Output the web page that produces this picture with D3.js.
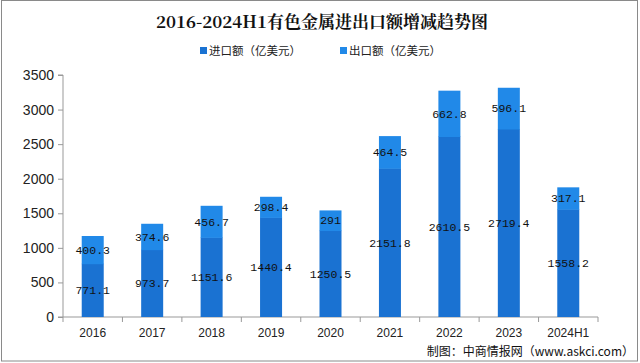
<!DOCTYPE html>
<html>
<head>
<meta charset="utf-8">
<script src="https://cdn.jsdelivr.net/npm/d3@7"></script>
<style>
  body { margin: 0; background: #fff; }
  svg { display: block; }
</style>
</head>
<body>
<script>
const years = ['2016', '2017', '2018', '2019', '2020', '2021', '2022', '2023', '2024H1'];
const importVals = [771.1, 973.7, 1151.6, 1440.4, 1250.5, 2151.8, 2610.5, 2719.4, 1558.2];
const exportVals = [400.3, 374.6, 456.7, 298.4, 291, 464.5, 662.8, 596.1, 317.1];
const yTicks = [0, 500, 1000, 1500, 2000, 2500, 3000, 3500];
const seriesNames = ['进口额（亿美元）', '出口额（亿美元）'];

const width = 640, height = 363;
const margin = { top: 75, right: 42, bottom: 46, left: 63 };
const importColor = '#1a72d2';
const exportColor = '#2189e8';

const svg = d3.select('body').append('svg')
  .attr('width', width)
  .attr('height', height);

svg.append('rect')
  .attr('x', 1.5).attr('y', 0.5)
  .attr('width', width - 4).attr('height', height - 2.5)
  .attr('fill', '#fff')
  .attr('stroke', '#8a8a8a');

svg.append('text')
  .attr('x', 322)
  .attr('y', 28)
  .attr('text-anchor', 'middle')
  .style('font-family', '"Noto Serif CJK SC", "Noto Sans CJK SC", serif')
  .style('font-size', '17px')
  .style('font-weight', 'bold')
  .style('fill', '#111')
  .text('2016-2024H1有色金属进出口额增减趋势图');

// legend
const legend = svg.append('g');
[[200, importColor], [340, exportColor]].forEach(([x, c], i) => {
  legend.append('rect')
    .attr('x', x).attr('y', 47)
    .attr('width', 7).attr('height', 7)
    .attr('fill', c);
  legend.append('text')
    .attr('x', x + 9).attr('y', 55)
    .style('font-family', '"Noto Sans CJK SC", sans-serif')
    .style('font-size', '11.5px')
    .style('fill', '#222')
    .text(seriesNames[i]);
});

const g = svg.append('g')
  .attr('transform', `translate(${margin.left}, ${margin.top})`);
const w = width - margin.left - margin.right;
const h = height - margin.top - margin.bottom;

const x = d3.scaleBand().domain(years).range([0, w]);
const y = d3.scaleLinear().domain([0, 3500]).range([h, 0]);

const yAxis = d3.axisLeft(y).tickValues(yTicks).tickFormat(d3.format('d')).tickSize(5).tickPadding(4);
g.append('g').call(yAxis)
  .call(s => s.select('.domain').attr('stroke', '#999').attr('d', `M-5,0H0V${h}H-5`))
  .call(s => s.selectAll('.tick line').attr('stroke', '#999'))
  .call(s => s.selectAll('.tick text')
    .style('font-family', '"Liberation Sans", Arial, sans-serif')
    .style('font-size', '14px')
    .style('fill', '#222'));

// x axis with ticks between categories
const xg = g.append('g').attr('transform', `translate(0, ${h})`);
xg.append('line')
  .attr('x1', 0).attr('x2', w)
  .attr('stroke', '#999');
xg.selectAll('.sep')
  .data(d3.range(years.length + 1))
  .enter().append('line')
  .attr('x1', i => i * x.step()).attr('x2', i => i * x.step())
  .attr('y1', 0).attr('y2', 5)
  .attr('stroke', '#999');
xg.selectAll('.lbl')
  .data(years)
  .enter().append('text')
  .attr('x', d => x(d) + x.bandwidth() / 2)
  .attr('y', 20)
  .attr('text-anchor', 'middle')
  .style('font-family', '"Liberation Sans", Arial, sans-serif')
  .style('font-size', '12px')
  .style('fill', '#222')
  .text(d => d);

const barW = 22;
const rows = years.map((d, i) => ({ year: d, imp: importVals[i], exp: exportVals[i] }));

g.selectAll('.imp')
  .data(rows)
  .enter().append('rect')
  .attr('x', d => x(d.year) + x.bandwidth() / 2 - barW / 2)
  .attr('y', d => y(d.imp))
  .attr('width', barW)
  .attr('height', d => h - y(d.imp))
  .attr('fill', importColor);

g.selectAll('.exp')
  .data(rows)
  .enter().append('rect')
  .attr('x', d => x(d.year) + x.bandwidth() / 2 - barW / 2)
  .attr('y', d => y(d.imp + d.exp))
  .attr('width', barW)
  .attr('height', d => y(d.imp) - y(d.imp + d.exp) + 0.5)
  .attr('fill', exportColor);

const labelFont = '"Liberation Mono", "DejaVu Sans Mono", monospace';
g.selectAll('.impLbl')
  .data(rows)
  .enter().append('text')
  .attr('x', d => x(d.year) + x.bandwidth() / 2)
  .attr('y', d => y(d.imp / 2) + 4)
  .attr('text-anchor', 'middle')
  .style('font-family', labelFont)
  .style('font-size', '11.5px')
  .style('fill', '#111')
  .text(d => d.imp);

g.selectAll('.expLbl')
  .data(rows)
  .enter().append('text')
  .attr('x', d => x(d.year) + x.bandwidth() / 2)
  .attr('y', d => y(d.imp + d.exp / 2) + 4)
  .attr('text-anchor', 'middle')
  .style('font-family', labelFont)
  .style('font-size', '11.5px')
  .style('fill', '#111')
  .text(d => d.exp);

svg.append('text')
  .attr('x', 634)
  .attr('y', 356)
  .attr('text-anchor', 'end')
  .style('font-family', '"Noto Sans CJK SC", sans-serif')
  .style('font-size', '12px')
  .style('fill', '#111')
  .text('制图：中商情报网（www.askci.com）');
</script>
</body>
</html>
